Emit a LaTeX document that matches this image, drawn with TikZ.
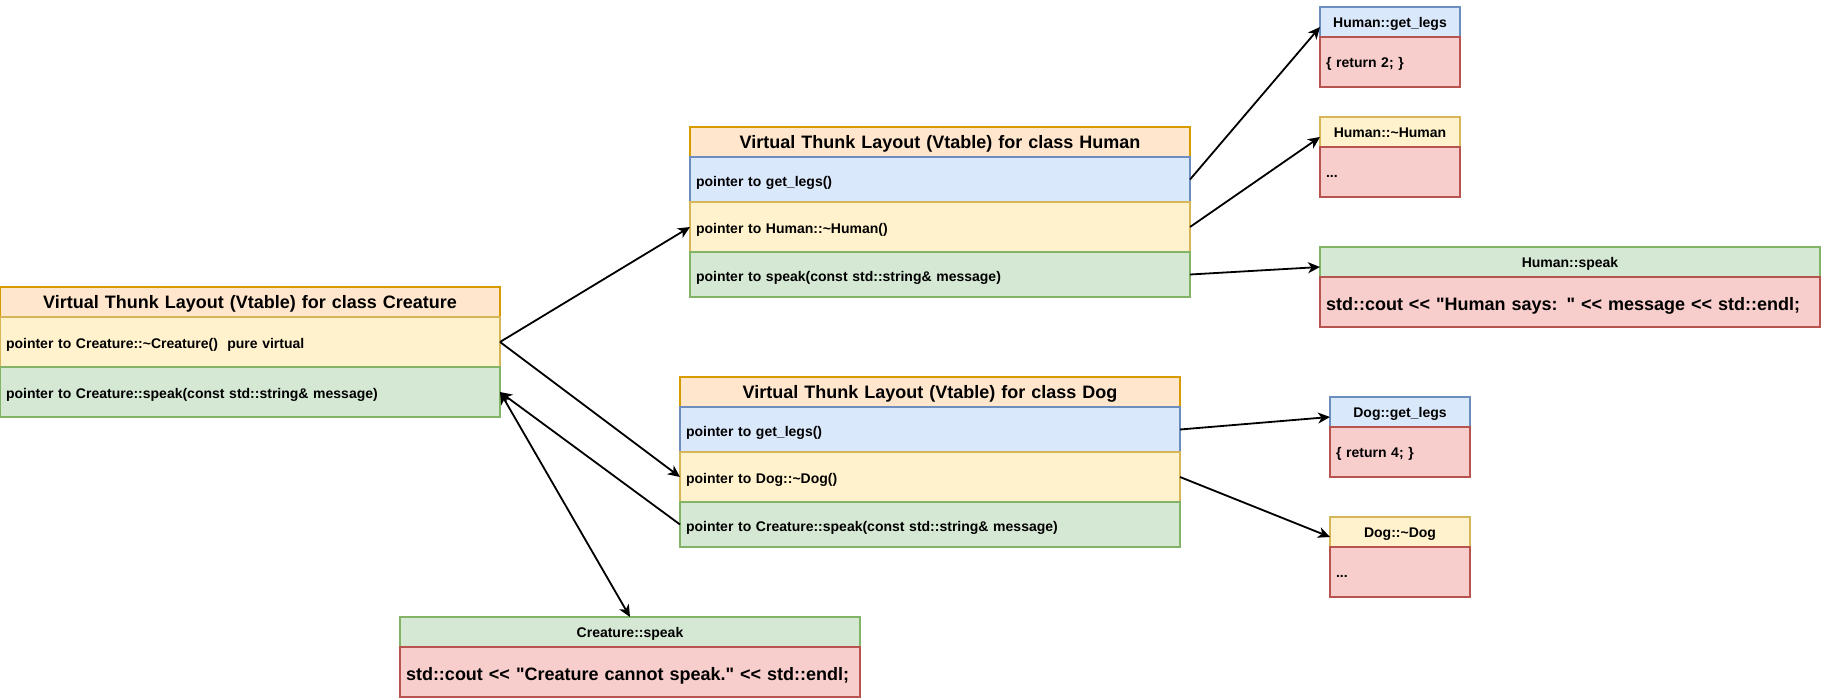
\documentclass[tikz,border=0pt]{standalone}
\usepackage{fontspec}
\setmainfont{Liberation Sans}[Ligatures=TeXOff]
\usetikzlibrary{calc,arrows.meta}
\definecolor{orF}{HTML}{FFE6CC}\definecolor{orD}{HTML}{D79B00}
\definecolor{blF}{HTML}{DAE8FC}\definecolor{blD}{HTML}{6C8EBF}
\definecolor{yeF}{HTML}{FFF2CC}\definecolor{yeD}{HTML}{D6B656}
\definecolor{grF}{HTML}{D5E8D4}\definecolor{grD}{HTML}{82B366}
\definecolor{reF}{HTML}{F8CECC}\definecolor{reD}{HTML}{B85450}
\newcommand\smallfnt{\fontsize{14}{17}\selectfont\bfseries}
\newcommand\bigfnt{\fontsize{18}{22}\selectfont\bfseries}
\begin{document}
\begin{tikzpicture}[x=1pt,y=-1pt,
  cell/.style={rectangle, draw, line width=1.2pt, anchor=north west, inner xsep=6pt, inner ysep=0pt, outer sep=0pt, font=\smallfnt},
  rowtxt/.style={align=left, text height=17pt, text depth=3.4pt},
  smhead/.style={align=center, text height=14.5pt, text depth=3.1pt},
  smbody/.style={align=left, text height=14pt, text depth=3pt},
  bighead/.style={align=center, font=\bigfnt, text height=16.6pt, text depth=4pt},
  bigbody/.style={align=left, font=\bigfnt, text height=21.4pt, text depth=4pt},
  wA/.style={minimum width=500pt, text width=488pt},
  wB/.style={minimum width=460pt, text width=448pt},
  wC/.style={minimum width=140pt, text width=128pt},
  orng/.style={fill=orF, draw=orD},
  blu/.style={fill=blF, draw=blD},
  yel/.style={fill=yeF, draw=yeD},
  grn/.style={fill=grF, draw=grD},
  codebox/.style={fill=reF, draw=reD},
  conn/.style={line width=1.8pt, draw=black, -{Stealth[length=12pt,width=11pt,inset=3.5pt]}},
  dconn/.style={line width=1.8pt, draw=black, {Stealth[length=12pt,width=11pt,inset=3.5pt]}-{Stealth[length=12pt,width=11pt,inset=3.5pt]}},
]
\useasboundingbox (0,0) rectangle (1822,698);

% Creature vtable
\node[cell,orng,wA,bighead,minimum height=30pt] (ch) at (0,287) {Virtual Thunk Layout (Vtable) for class Creature};
\node[cell,yel,wA,rowtxt,minimum height=50pt] (cr1) at (0,317) {pointer to Creature::\textasciitilde Creature()\ \ pure virtual};
\node[cell,grn,wA,rowtxt,minimum height=50pt] (cr2) at (0,367) {pointer to Creature::speak(const std::string\& message)};

% Human vtable
\node[cell,orng,wA,bighead,minimum height=30pt] (hh) at (690,127) {Virtual Thunk Layout (Vtable) for class Human};
\node[cell,blu,wA,rowtxt,minimum height=45pt] (hr1) at (690,157) {pointer to get\_legs()};
\node[cell,yel,wA,rowtxt,minimum height=50pt] (hr2) at (690,202) {pointer to Human::\textasciitilde Human()};
\node[cell,grn,wA,rowtxt,minimum height=45pt] (hr3) at (690,252) {pointer to speak(const std::string\& message)};

% Dog vtable
\node[cell,orng,wA,bighead,minimum height=30pt] (dh) at (680,377) {Virtual Thunk Layout (Vtable) for class Dog};
\node[cell,blu,wA,rowtxt,minimum height=45pt] (dr1) at (680,407) {pointer to get\_legs()};
\node[cell,yel,wA,rowtxt,minimum height=50pt] (dr2) at (680,452) {pointer to Dog::\textasciitilde Dog()};
\node[cell,grn,wA,rowtxt,minimum height=45pt] (dr3) at (680,502) {pointer to Creature::speak(const std::string\& message)};

% Human functions
\node[cell,blu,wC,smhead,minimum height=30pt] (hglh) at (1320,7) {Human::get\_legs};
\node[cell,codebox,wC,smbody,minimum height=50pt] (hglb) at (1320,37) {\{ return 2; \}};
\node[cell,yel,wC,smhead,minimum height=30pt] (hdh) at (1320,117) {Human::\textasciitilde Human};
\node[cell,codebox,wC,smbody,minimum height=50pt] (hdb) at (1320,147) {...};
\node[cell,grn,wA,smhead,minimum height=30pt] (hsh) at (1320,247) {Human::speak};
\node[cell,codebox,wA,bigbody,minimum height=50pt] (hsb) at (1320,277) {std::cout << "Human says: " << message << std::endl;};

% Dog functions
\node[cell,blu,wC,smhead,minimum height=30pt] (dglh) at (1330,397) {Dog::get\_legs};
\node[cell,codebox,wC,smbody,minimum height=50pt] (dglb) at (1330,427) {\{ return 4; \}};
\node[cell,yel,wC,smhead,minimum height=30pt] (ddh) at (1330,517) {Dog::\textasciitilde Dog};
\node[cell,codebox,wC,smbody,minimum height=50pt] (ddb) at (1330,547) {...};

% Creature::speak
\node[cell,grn,wB,smhead,minimum height=30pt] (csh) at (400,617) {Creature::speak};
\node[cell,codebox,wB,bigbody,minimum height=50pt] (csb) at (400,647) {\mbox{std::cout << "Creature cannot speak." << std::endl;}};

% connectors
\draw[conn] (cr1.east) -- (hr2.west);
\draw[conn] (cr1.east) -- (dr2.west);
\draw[conn] (dr3.west) -- (cr2.east);
\draw[dconn] (csh.north) -- (cr2.east);
\draw[conn] (hr1.east) -- ($(hglh.north west)!0.25!(hglb.south west)$);
\draw[conn] (hr2.east) -- ($(hdh.north west)!0.25!(hdb.south west)$);
\draw[conn] (hr3.east) -- ($(hsh.north west)!0.25!(hsb.south west)$);
\draw[conn] (dr1.east) -- ($(dglh.north west)!0.25!(dglb.south west)$);
\draw[conn] (dr2.east) -- ($(ddh.north west)!0.25!(ddb.south west)$);
\end{tikzpicture}
\end{document}
